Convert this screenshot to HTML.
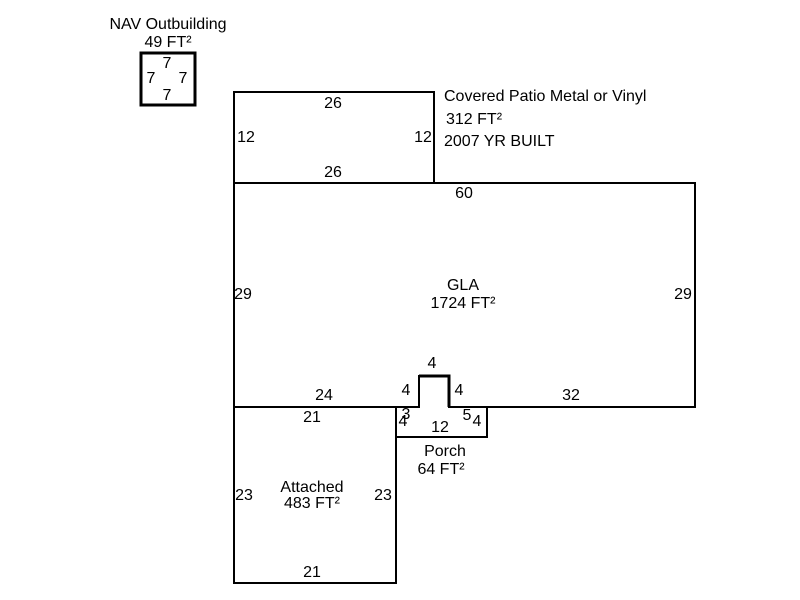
<!DOCTYPE html>
<html><head><meta charset="utf-8"><style>
html,body{margin:0;padding:0;background:#fff;}
svg{display:block;}
text{font-family:"Liberation Sans",Arial,sans-serif;font-size:16px;fill:#000;}
</style></head><body>
<svg width="800" height="600" viewBox="0 0 800 600">
<g fill="none" stroke="#000" stroke-width="2">
<rect x="141" y="53" width="54" height="52" stroke-width="3"/>
<rect x="234" y="92" width="200" height="91"/>
<path d="M234 183 H695 V407 H449 V376 H419 V407 H234 Z"/>
<path d="M419 376 H449 V407" stroke-width="3"/>
<rect x="234" y="407" width="162" height="176"/>
<path d="M396 407 V437 H487 V407" />
</g>
<g text-anchor="middle">
<text x="168" y="29">NAV Outbuilding</text>
<text x="168" y="47">49 FT²</text>
<text x="167" y="68">7</text>
<text x="151" y="83">7</text>
<text x="183" y="83">7</text>
<text x="167" y="100">7</text>
<text x="333" y="108">26</text>
<text x="246" y="142">12</text>
<text x="423" y="142">12</text>
<text x="333" y="177">26</text>
<text x="464" y="198">60</text>
<text x="243" y="299">29</text>
<text x="683" y="299">29</text>
<text x="463" y="290">GLA</text>
<text x="463" y="308">1724 FT²</text>
<text x="432" y="368">4</text>
<text x="406" y="395">4</text>
<text x="459" y="395">4</text>
<text x="324" y="400">24</text>
<text x="571" y="400">32</text>
<text x="312" y="422">21</text>
<text x="406" y="419">3</text>
<text x="403" y="426">4</text>
<text x="467" y="420">5</text>
<text x="477" y="426">4</text>
<text x="440" y="432">12</text>
<text x="445" y="456">Porch</text>
<text x="441" y="474">64 FT²</text>
<text x="312" y="492">Attached</text>
<text x="312" y="508">483 FT²</text>
<text x="244" y="500">23</text>
<text x="383" y="500">23</text>
<text x="312" y="577">21</text>
</g>
<text x="444" y="101">Covered Patio Metal or Vinyl</text>
<text x="446" y="124">312 FT²</text>
<text x="444" y="146">2007 YR BUILT</text>
</svg>
</body></html>
